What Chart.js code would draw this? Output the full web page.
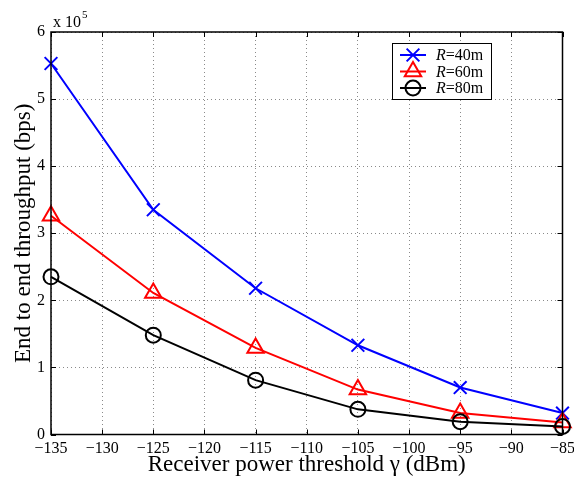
<!DOCTYPE html>
<html>
<head>
<meta charset="utf-8">
<script src="https://cdn.jsdelivr.net/npm/chart.js@4/dist/chart.umd.min.js"></script>
<style>
  html, body { margin: 0; padding: 0; background: #ffffff; }
  #wrap { width: 574px; height: 479px; position: relative; }
</style>
</head>
<body>
<div id="wrap"><canvas id="c" width="574" height="479"></canvas></div>
<script>
// Receiver power threshold (dBm)
const thresholds = [-135, -125, -115, -105, -95, -85];
// End-to-end throughput (bps) for each transmission range
const throughputR40 = [553000, 335000, 218000, 133000, 70000, 32000];
const throughputR60 = [326000, 211000, 129000, 67000, 32000, 18000];
const throughputR80 = [235000, 148000, 81000, 37500, 19000, 12000];
const rangeLabels = ['40m', '60m', '80m'];
const xTickValues = [-135, -130, -125, -120, -115, -110, -105, -100, -95, -90, -85];
const yTickValues = [0, 100000, 200000, 300000, 400000, 500000, 600000];
const yExponent = 5;

const SERIF = '"Liberation Serif", "DejaVu Serif", serif';

function toPoints(values) {
  return thresholds.map((t, i) => ({ x: t, y: values[i] }));
}

const seriesStyles = [
  { color: '#0000ff', pointStyle: 'crossRot', radius: 9 },
  { color: '#ff0000', pointStyle: 'triangle', radius: 9.5 },
  { color: '#000000', pointStyle: 'circle', radius: 7.5 }
];
const seriesValues = [throughputR40, throughputR60, throughputR80];

const datasets = seriesValues.map((vals, i) => ({
  label: 'R=' + rangeLabels[i],
  data: toPoints(vals),
  borderColor: seriesStyles[i].color,
  backgroundColor: 'rgba(0,0,0,0)',
  borderWidth: 2,
  pointStyle: seriesStyles[i].pointStyle,
  pointRadius: seriesStyles[i].radius,
  pointBorderWidth: 2,
  pointBorderColor: seriesStyles[i].color,
  pointBackgroundColor: 'rgba(0,0,0,0)',
  showLine: true,
  tension: 0,
  clip: false,
  order: 3 - i
}));

// Axis box, inward tick marks, exponent label and the legend
const frame = {
  id: 'frame',
  afterDraw(chart) {
    const ctx = chart.ctx;
    const a = chart.chartArea;
    const xs = chart.scales.x, ys = chart.scales.y;
    ctx.save();
    ctx.strokeStyle = '#000';
    ctx.lineWidth = 1.5;
    ctx.strokeRect(a.left, a.top, a.right - a.left, a.bottom - a.top);
    ctx.lineWidth = 1;
    const tl = 5;
    ctx.beginPath();
    xTickValues.forEach(v => {
      const px = Math.round(xs.getPixelForValue(v)) + 0.5;
      ctx.moveTo(px, a.bottom); ctx.lineTo(px, a.bottom - tl);
      ctx.moveTo(px, a.top); ctx.lineTo(px, a.top + tl);
    });
    yTickValues.forEach(v => {
      const py = Math.round(ys.getPixelForValue(v)) + 0.5;
      ctx.moveTo(a.left, py); ctx.lineTo(a.left + tl, py);
      ctx.moveTo(a.right, py); ctx.lineTo(a.right - tl, py);
    });
    ctx.stroke();

    // exponent label
    ctx.fillStyle = '#000';
    ctx.textBaseline = 'alphabetic';
    ctx.textAlign = 'left';
    ctx.font = '16px ' + SERIF;
    ctx.fillText('x 10', a.left + 2, a.top - 5);
    const w = ctx.measureText('x 10').width;
    ctx.font = '11px ' + SERIF;
    ctx.fillText(String(yExponent), a.left + 2 + w + 1, a.top - 14);

    // legend
    const lx = 392, ly = 43, lw = 99, lh = 56;
    ctx.fillStyle = '#fff';
    ctx.fillRect(lx, ly, lw, lh);
    ctx.strokeStyle = '#000';
    ctx.lineWidth = 1;
    ctx.strokeRect(lx + 0.5, ly + 0.5, lw, lh);
    chart.data.datasets.forEach((ds, i) => {
      const cy = ly + 12 + i * 16.5;
      ctx.strokeStyle = ds.borderColor;
      ctx.lineWidth = 2;
      ctx.beginPath();
      ctx.moveTo(lx + 8, cy); ctx.lineTo(lx + 34, cy);
      ctx.stroke();
      ctx.fillStyle = 'rgba(0,0,0,0)';
      Chart.helpers.drawPoint(ctx, {
        pointStyle: ds.pointStyle, rotation: 0,
        radius: ds.pointRadius, borderWidth: 2
      }, lx + 21, cy);
      ctx.fillStyle = '#000';
      ctx.textBaseline = 'middle';
      ctx.font = 'italic 16px ' + SERIF;
      ctx.fillText('R', lx + 44, cy + 1);
      const rw = ctx.measureText('R').width;
      ctx.font = '16px ' + SERIF;
      ctx.fillText('=' + rangeLabels[i], lx + 44 + rw, cy + 1);
    });
    ctx.restore();
  }
};

new Chart(document.getElementById('c'), {
  type: 'scatter',
  data: { datasets },
  options: {
    responsive: false,
    devicePixelRatio: 1,
    animation: false,
    events: [],
    layout: { padding: { top: 32, right: 11, left: 0, bottom: 0 } },
    plugins: { legend: { display: false }, tooltip: { enabled: false } },
    scales: {
      x: {
        type: 'linear',
        min: -135, max: -85,
        afterBuildTicks: s => { s.ticks = xTickValues.map(v => ({ value: v })); },
        afterFit: s => { s.height = 44.5; s.paddingLeft = 0; s.paddingRight = 0; },
        grid: { color: '#8a8a8a', lineWidth: 1, drawTicks: false },
        border: { display: false, dash: [1, 3] },
        ticks: {
          padding: 5,
          color: '#000',
          font: { family: SERIF, size: 16 },
          maxRotation: 0,
          autoSkip: false,
          callback: v => (v < 0 ? '\u2212' + Math.abs(v) : String(v))
        },
        title: {
          display: true,
          text: 'Receiver power threshold \u03b3 (dBm)',
          color: '#000',
          font: { family: SERIF, size: 23 },
          padding: { top: 0, bottom: 0 }
        }
      },
      y: {
        type: 'linear',
        min: 0, max: 600000,
        afterBuildTicks: s => { s.ticks = yTickValues.map(v => ({ value: v })); },
        afterFit: s => { s.width = 51; s.paddingTop = 0; s.paddingBottom = 0; },
        grid: { color: '#8a8a8a', lineWidth: 1, drawTicks: false },
        border: { display: false, dash: [1, 3] },
        ticks: {
          padding: 6,
          color: '#000',
          font: { family: SERIF, size: 16 },
          callback: v => String(v / Math.pow(10, yExponent))
        },
        title: {
          display: true,
          text: 'End to end throughput (bps)',
          color: '#000',
          font: { family: SERIF, size: 23 },
          padding: { top: 10, bottom: 0 }
        }
      }
    }
  },
  plugins: [frame]
});
</script>
</body>
</html>
